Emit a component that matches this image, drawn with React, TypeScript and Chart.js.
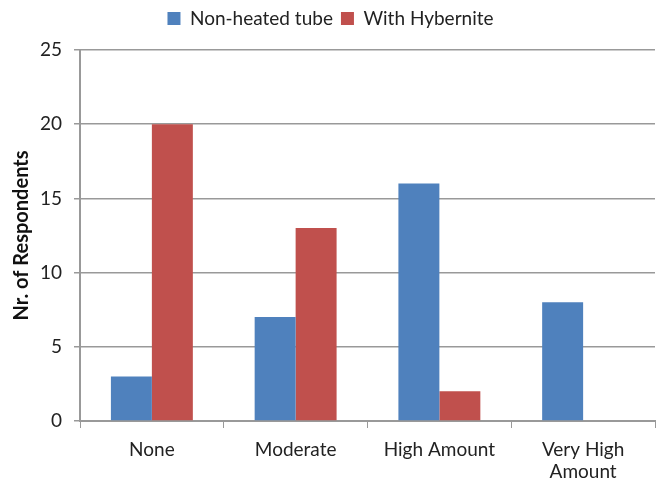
import React, { useEffect, useRef } from "react";
import { Chart, registerables } from "chart.js";

Chart.register(...registerables);

const categories: (string | string[])[] = ["None", "Moderate", "High Amount", ["Very High", "Amount"]];
const nonHeated = [3, 7, 16, 8];
const withHybernite = [20, 13, 2, 0];
const seriesNames = ["Non-heated tube", "With Hybernite"];
const yTitle = "Nr. of Respondents";

const FONT = "Lato, 'DejaVu Sans', sans-serif";

const legendMargin = {
  id: "legendMargin",
  beforeInit(chart: any) {
    const orig = chart.legend.fit;
    chart.legend.fit = function () {
      orig.call(this);
      this.height += 12;
    };
  },
};

export default function App() {
  const ref = useRef<HTMLCanvasElement | null>(null);
  useEffect(() => {
    if (!ref.current) return;
    const chart = new Chart(ref.current, {
      type: "bar",
      data: {
        labels: categories,
        datasets: [
          { label: seriesNames[0], data: nonHeated, backgroundColor: "#4F81BD", categoryPercentage: 0.57, barPercentage: 1 },
          { label: seriesNames[1], data: withHybernite, backgroundColor: "#C0504D", categoryPercentage: 0.57, barPercentage: 1 },
        ],
      },
      plugins: [legendMargin],
      options: {
        responsive: false,
        animation: false,
        layout: { padding: { top: 1, right: 5, left: 6, bottom: 0 } },
        plugins: {
          legend: {
            position: "top",
            labels: {
              font: { family: FONT, size: 19 },
              color: "#222",
              boxWidth: 13,
              boxHeight: 13,
              padding: 8,
            },
          },
          tooltip: { enabled: false },
        },
        scales: {
          x: {
            grid: { display: true, drawOnChartArea: false, offset: true, color: "#999", tickLength: 7 },
            border: { color: "#999", width: 2 },
            ticks: { font: { family: FONT, size: 19, lineHeight: 1.2 }, color: "#222", padding: 10 },
            afterFit(scale: any) {
              scale.height = 60;
            },
          },
          y: {
            min: 0,
            max: 25,
            ticks: { stepSize: 5, font: { family: FONT, size: 19 }, color: "#222", padding: 12 },
            grid: { color: "#999", lineWidth: 1.5, tickLength: 6 },
            border: { color: "#999", width: 2 },
            title: { display: true, text: yTitle, font: { family: FONT, size: 20, weight: "bold" }, color: "#111", padding: 4 },
            afterFit(scale: any) {
              scale.width = 74;
            },
          },
        },
      },
    });
    return () => chart.destroy();
  }, []);
  return (
    <div style={{ position: "absolute", left: 0, top: 0, width: 660, height: 481, background: "#fff" }}>
      <canvas ref={ref} width={660} height={481} />
    </div>
  );
}
